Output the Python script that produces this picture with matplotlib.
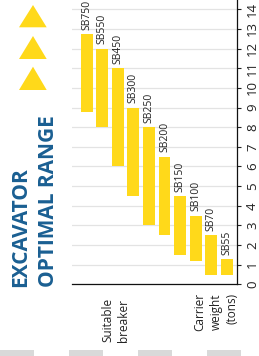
import matplotlib
matplotlib.use("Agg")
import matplotlib.pyplot as plt
from matplotlib.patches import Rectangle, Polygon

plt.rcParams['font.family'] = ['Open Sans', 'DejaVu Sans']

# Data
breakers = ["SB750", "SB550", "SB450", "SB300", "SB250", "SB200", "SB150", "SB100", "SB70", "SB55"]
carrier_min = [8.75, 8.0, 6.0, 4.5, 3.0, 2.5, 1.5, 1.2, 0.5, 0.5]
carrier_max = [12.75, 12.0, 11.0, 9.0, 8.0, 6.5, 4.5, 3.5, 2.5, 1.3]
y_ticks = list(range(0, 15))
title_lines = ["EXCAVATOR", "OPTIMAL RANGE"]
axis_label_breaker = "Suitable\nbreaker"
axis_label_weight = "Carrier\nweight\n(tons)"

W, H = 259, 356
fig = plt.figure(figsize=(W / 100, H / 100), dpi=100)

YELLOW = '#FFD91A'
BLUE = '#1a5f92'
TXT = '#222222'

ax = fig.add_axes([72 / W, (H - 284.4) / H, (237 - 72) / W, 284.4 / H])
x = list(range(len(breakers)))
heights = [b - a for a, b in zip(carrier_min, carrier_max)]
bars = ax.bar(x, heights, bottom=carrier_min, width=0.77, color=YELLOW, zorder=3)
for xi, top, name in zip(x, carrier_max, breakers):
    ax.annotate(name, (xi, top), xytext=(0, 3), textcoords='offset points',
                rotation=90, ha='center', va='bottom', fontsize=7.5, color=TXT,
                annotation_clip=False)

ax.set_xlim(-0.945, 9.66)
ax.set_ylim(0, 14.47)
ax.set_yticks(y_ticks)
ax.set_yticklabels([str(v) for v in y_ticks], rotation=90, va='center')
ax.yaxis.tick_right()
ax.tick_params(axis='y', length=3, width=0.8, pad=3.5, labelsize=9.5, colors=TXT)
ax.set_xticks([])
ax.grid(axis='y', color='#e3e3e3', linewidth=0.9, zorder=0)
for s in ['top', 'left']:
    ax.spines[s].set_visible(False)
ax.spines['right'].set_color('#111111')
ax.spines['bottom'].set_color('#111111')
ax.spines['right'].set_linewidth(0.9)
ax.spines['bottom'].set_linewidth(0.9)

# Axis labels (rotated)
fig.text(115.5 / W, 1 - 342 / H, axis_label_breaker, rotation=90, ha='center', va='bottom',
         multialignment='left', fontsize=8.5, color=TXT, linespacing=1.3)
fig.text(216 / W, 1 - 293 / H, axis_label_weight, rotation=90, ha='center', va='top',
         multialignment='right', fontsize=8.5, color=TXT, linespacing=1.3)

# Title (rotated)
fig.text(21 / W, 1 - 287 / H, title_lines[0], rotation=90, ha='center', va='bottom',
         fontsize=15, fontweight='bold', color=BLUE)
fig.text(48.5 / W, 1 - 287 / H, title_lines[1], rotation=90, ha='center', va='bottom',
         fontsize=15, fontweight='bold', color=BLUE)

# Decorative triangles
for apex_y, base_y in [(5, 27.3), (36, 59), (66.7, 90)]:
    tri = Polygon([(19 / W, 1 - base_y / H), (46.7 / W, 1 - base_y / H), (33 / W, 1 - apex_y / H)],
                  closed=True, transform=fig.transFigure, color=YELLOW, lw=0)
    fig.patches.append(tri)

# Decorative gray boxes at bottom
for x0 in [0, 69, 138, 207]:
    fig.patches.append(Rectangle((x0 / W, 0), 34 / W, 6 / H, transform=fig.transFigure,
                                 color='#d9d9d9', lw=0))

fig.savefig('out.png', dpi=100)
